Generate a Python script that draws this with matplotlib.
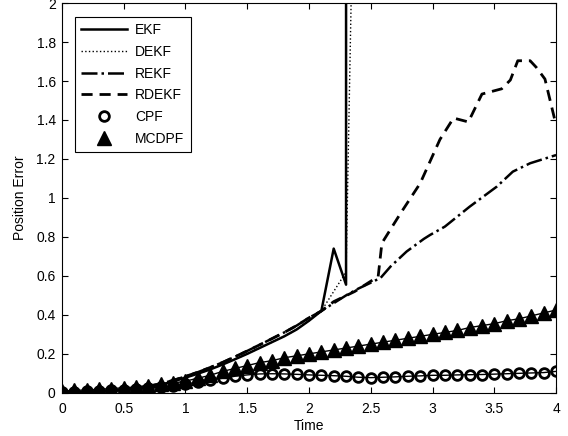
import matplotlib
matplotlib.use("Agg")
import matplotlib.pyplot as plt
import numpy as np

plt.rcParams['font.family'] = ['Liberation Sans', 'DejaVu Sans']

# shared time grid for the particle filters (step 0.1)
t_grid = np.round(np.arange(0, 4.01, 0.1), 2)

# early part shared by the Kalman-type filters, 0 .. 2.1
t_early = np.round(np.arange(0, 2.11, 0.1), 2)
ekf_early = [0.0, 0.001, 0.003, 0.006, 0.01, 0.015, 0.022, 0.03, 0.042, 0.058,
             0.078, 0.098, 0.12, 0.145, 0.172, 0.2, 0.23, 0.26, 0.29, 0.325,
             0.37, 0.42]
rekf_early = [0.0, 0.001, 0.003, 0.007, 0.011, 0.017, 0.025, 0.034, 0.047, 0.064,
              0.084, 0.106, 0.13, 0.156, 0.185, 0.215, 0.246, 0.278, 0.31, 0.345,
              0.385, 0.42]

# EKF
ekf_t = list(t_early) + [2.2, 2.3, 2.4]
ekf_y = ekf_early + [0.74, 0.555, 1000.0]

# DEKF
dekf_t = list(t_early) + [2.2, 2.3, 2.4]
dekf_y = ekf_early + [0.52, 0.62, 4.0]

# REKF
rekf_t = list(t_early) + [2.2, 2.3, 2.4, 2.5, 2.58, 2.66, 2.79, 2.93, 2.98, 3.1,
                          3.3, 3.52, 3.65, 3.79, 4.0]
rekf_y = rekf_early + [0.46, 0.5, 0.535, 0.565, 0.59, 0.648, 0.725, 0.79, 0.81,
                       0.853, 0.955, 1.058, 1.135, 1.178, 1.22]

# RDEKF
rdekf_t = list(t_early) + [2.2, 2.37, 2.56, 2.59, 2.74, 2.9, 3.06, 3.17, 3.29,
                           3.40, 3.56, 3.63, 3.69, 3.79, 3.84, 3.91, 3.99]
rdekf_y = rekf_early + [0.468, 0.52, 0.597, 0.768, 0.92, 1.075, 1.30, 1.41, 1.39,
                        1.533, 1.56, 1.605, 1.704, 1.704, 1.67, 1.61, 1.40]

# CPF
cpf_y = [0.005, 0.006, 0.008, 0.01, 0.012, 0.015, 0.02, 0.025, 0.03, 0.037,
         0.045, 0.055, 0.065, 0.075, 0.085, 0.092, 0.097, 0.098, 0.097, 0.095,
         0.092, 0.09, 0.088, 0.085, 0.08, 0.078, 0.08, 0.082, 0.085, 0.087,
         0.09, 0.09, 0.092, 0.093, 0.094, 0.096, 0.098, 0.1, 0.102, 0.104,
         0.11]

# MCDPF
mcdpf_y = [0.01, 0.012, 0.015, 0.018, 0.022, 0.026, 0.03, 0.036, 0.043, 0.05,
           0.06, 0.075, 0.09, 0.11, 0.125, 0.14, 0.155, 0.165, 0.18, 0.19,
           0.2, 0.21, 0.22, 0.23, 0.24, 0.25, 0.26, 0.27, 0.28, 0.29,
           0.3, 0.31, 0.32, 0.335, 0.345, 0.355, 0.37, 0.38, 0.395, 0.41,
           0.425]

fig = plt.figure(figsize=(5.68, 4.36), dpi=100)
ax = fig.add_axes([0.109, 0.099, 0.870, 0.894])

ax.plot(ekf_t, ekf_y, color='k', linestyle='-', linewidth=1.8, label='EKF')
ax.plot(dekf_t, dekf_y, color='k', linestyle=':', linewidth=1.0, label='DEKF')
ax.plot(rekf_t, rekf_y, color='k', linestyle='-.', linewidth=1.8, label='REKF')
ax.plot(rdekf_t, rdekf_y, color='k', linestyle='--', linewidth=2.0,
        dashes=(4, 2.5), label='RDEKF')
ax.plot(t_grid, cpf_y, color='k', linestyle='none', marker='o', markersize=7,
        markerfacecolor='none', markeredgewidth=2.0, label='CPF')
ax.plot(t_grid, mcdpf_y, color='k', linestyle='none', marker='^', markersize=10,
        markerfacecolor='k', label='MCDPF')
ax.plot(t_grid, cpf_y, color='k', linewidth=1.0)
ax.plot(t_grid, mcdpf_y, color='k', linewidth=1.0)

ax.set_xlim(0, 4)
ax.set_ylim(0, 2)
ax.set_xticks(np.arange(0, 4.01, 0.5))
ax.set_xticklabels(['0', '0.5', '1', '1.5', '2', '2.5', '3', '3.5', '4'])
ax.set_yticks(np.arange(0, 2.01, 0.2))
ax.set_yticklabels(['0', '0.2', '0.4', '0.6', '0.8', '1', '1.2', '1.4', '1.6',
                    '1.8', '2'])
ax.tick_params(direction='in', top=True, right=True, length=4, width=0.8,
               labelsize=10)
ax.tick_params(axis='x', pad=6.5)
ax.tick_params(axis='y', pad=4.5)
for s in ax.spines.values():
    s.set_linewidth(0.8)
ax.set_xlabel('Time', fontsize=10, labelpad=2)
ax.set_ylabel('Position Error', fontsize=10, labelpad=7)

leg = ax.legend(loc='upper left', bbox_to_anchor=(0.026, 0.964), borderaxespad=0,
                fancybox=False, edgecolor='k', framealpha=1, fontsize=10,
                handlelength=3.3, handletextpad=0.6, labelspacing=0.55,
                borderpad=0.45)
leg.get_frame().set_linewidth(0.8)

fig.savefig('out.png', dpi=100)
